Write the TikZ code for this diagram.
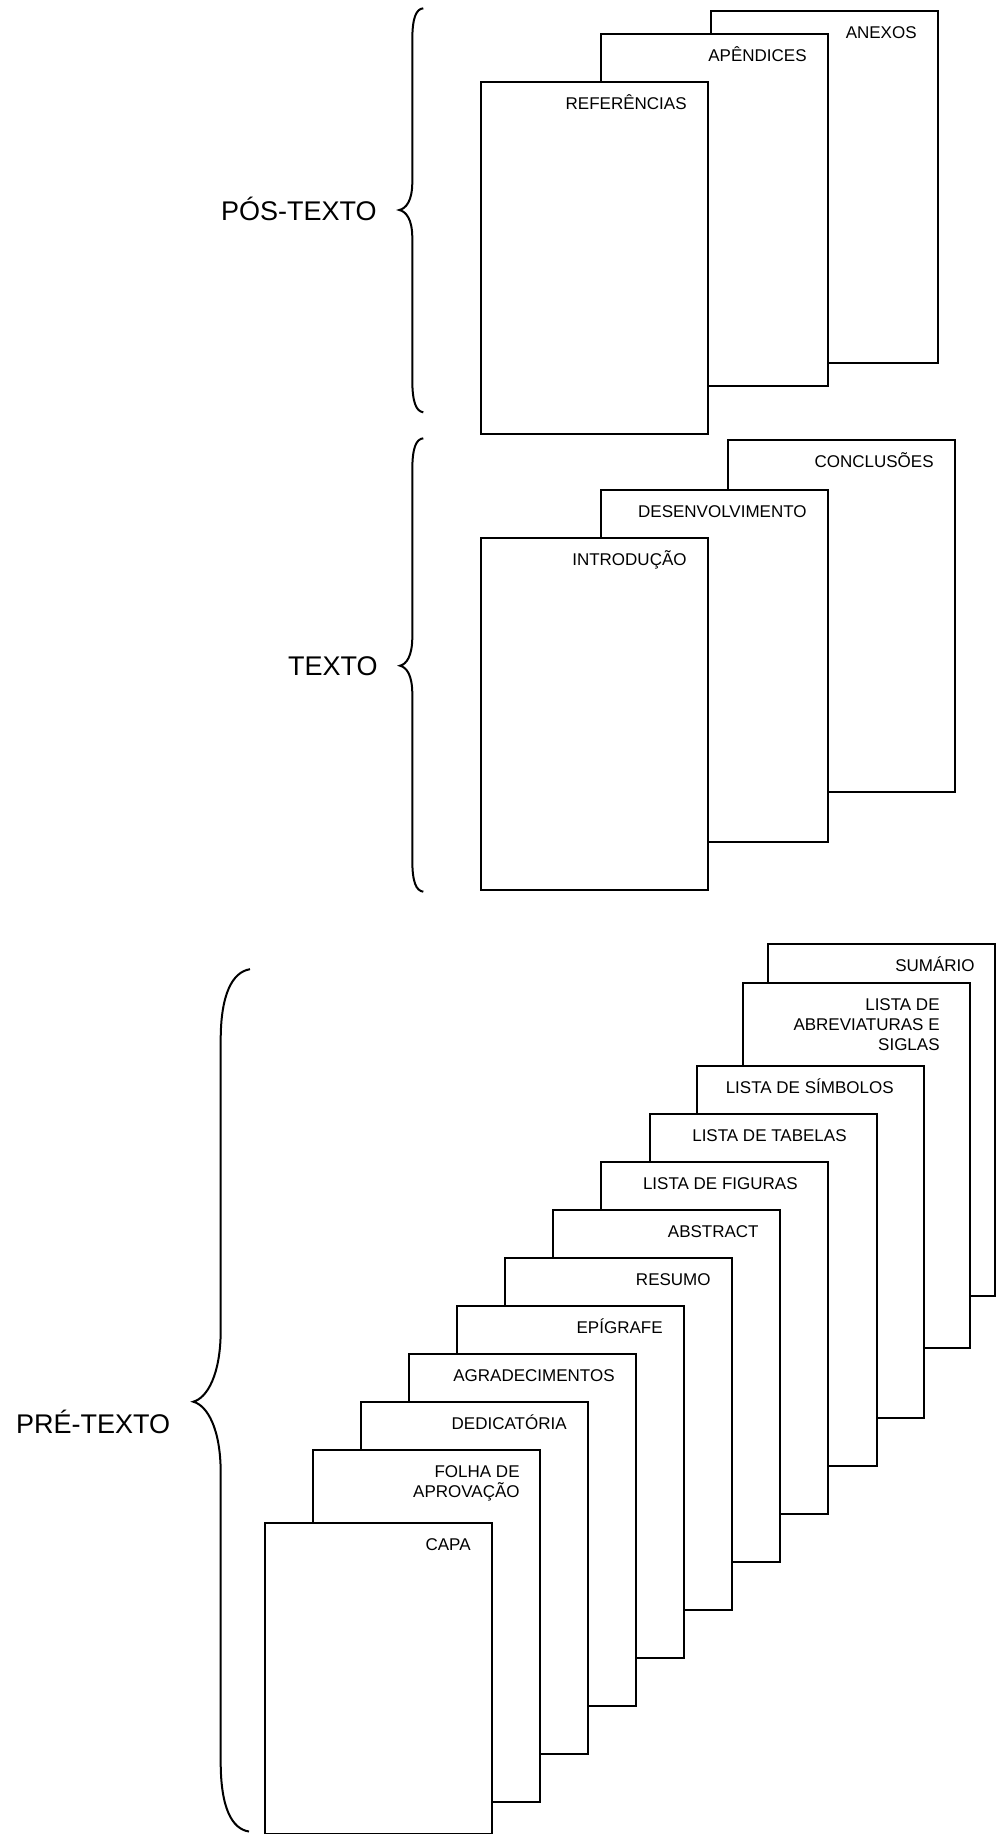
\documentclass[tikz,border=0pt]{standalone}
\usepackage{fontspec}
\setmainfont{Liberation Sans}
\usepackage{tikz}
\usetikzlibrary{calc,positioning}

\begin{document}
\begin{tikzpicture}[x=0.5pt,y=-0.5pt,
    page/.style={draw,fill=white,line width=1pt,anchor=north west,inner sep=0pt,
                 minimum width=113.5pt,minimum height=176pt},
    ptitle/.style={anchor=north east,inner sep=0pt,font=\fontsize{8.5}{10}\selectfont,
                   text height=6.1pt},
    ptitlem/.style={anchor=north east,inner sep=0pt,font=\fontsize{8.5}{10}\selectfont,
                    align=right},
    part/.style={anchor=east,inner sep=0pt,font=\fontsize{13.5}{16}\selectfont,
                 text height=9.7pt,text depth=0pt},
    curly/.style={line width=1pt}]
    \useasboundingbox (0,0) rectangle (996,1834);

    % pos-texto
    \node[page] (anexos) at (710,10) {};
    \node[ptitle] (anexos-t) at ($(anexos.north east)+(-22,16)$) {ANEXOS};
    \node[page] (apendices) at (600,33) {};
    \node[ptitle] (apendices-t) at ($(apendices.north east)+(-22,16)$) {APÊNDICES};
    \node[page] (referencias) at (480,81) {};
    \node[ptitle] (referencias-t) at ($(referencias.north east)+(-22,16)$) {REFERÊNCIAS};

    \draw[curly] (423.3,8.3) .. controls (416,9) and (412.3,18) .. (412.3,40)
        -- (412.3,182) .. controls (412.3,201) and (406,208.5) .. (399.3,210)
        .. controls (406,211.5) and (412.3,219) .. (412.3,238)
        -- (412.3,380) .. controls (412.3,402) and (416,411.3) .. (423.3,412.3);
    \node[part] (pos) at (377,211) {PÓS-TEXTO};

    % texto
    \node[page] (conclusoes) at (727,439) {};
    \node[ptitle] (conclusoes-t) at ($(conclusoes.north east)+(-22,16)$) {CONCLUSÕES};
    \node[page] (desenvolvimento) at (600,489) {};
    \node[ptitle] (desenvolvimento-t) at ($(desenvolvimento.north east)+(-22,16)$) {DESENVOLVIMENTO};
    \node[page] (introducao) at (480,537) {};
    \node[ptitle] (introducao-t) at ($(introducao.north east)+(-22,16)$) {INTRODUÇÃO};

    \draw[curly] (423.3,438.3) .. controls (416,439) and (412.3,448) .. (412.3,470)
        -- (412.3,637) .. controls (412.3,656) and (406.5,664.2) .. (400,665.7)
        .. controls (406.5,667.2) and (412.3,675) .. (412.3,694)
        -- (412.3,860) .. controls (412.3,882) and (416,890.7) .. (423.3,891.7);
    \node[part] (txt) at (378,666) {TEXTO};

    % pre-texto
    \node[page] (sumario) at (767,943) {};
    \node[ptitle] (sumario-t) at ($(sumario.north east)+(-21,16)$) {SUMÁRIO};
    \node[page,minimum height=182.5pt] (abreviaturas) at (742,982) {};
    \node[ptitlem] (abreviaturas-t) at ($(abreviaturas.north east)+(-31,16)$) {LISTA DE\\ABREVIATURAS E\\SIGLAS};
    \node[page] (simbolos) at (696,1065) {};
    \node[ptitle] (simbolos-t) at ($(simbolos.north east)+(-31,16)$) {LISTA DE SÍMBOLOS};
    \node[page] (tabelas) at (649,1113) {};
    \node[ptitle] (tabelas-t) at ($(tabelas.north east)+(-31,16)$) {LISTA DE TABELAS};
    \node[page] (figuras) at (600,1161) {};
    \node[ptitle] (figuras-t) at ($(figuras.north east)+(-31,16)$) {LISTA DE FIGURAS};
    \node[page] (abstract) at (552,1209) {};
    \node[ptitle] (abstract-t) at ($(abstract.north east)+(-22,16)$) {ABSTRACT};
    \node[page] (resumo) at (504,1257) {};
    \node[ptitle] (resumo-t) at ($(resumo.north east)+(-22,16)$) {RESUMO};
    \node[page] (epigrafe) at (456,1305) {};
    \node[ptitle] (epigrafe-t) at ($(epigrafe.north east)+(-22,16)$) {EPÍGRAFE};
    \node[page] (agradecimentos) at (408,1353) {};
    \node[ptitle] (agradecimentos-t) at ($(agradecimentos.north east)+(-22,16)$) {AGRADECIMENTOS};
    \node[page] (dedicatoria) at (360,1401) {};
    \node[ptitle] (dedicatoria-t) at ($(dedicatoria.north east)+(-22,16)$) {DEDICATÓRIA};
    \node[page] (folha) at (312,1449) {};
    \node[ptitlem] (folha-t) at ($(folha.north east)+(-21,16)$) {FOLHA DE\\APROVAÇÃO};
    \node[page,minimum height=155.5pt] (capa) at (264,1522) {};
    \node[ptitle] (capa-t) at ($(capa.north east)+(-22,16)$) {CAPA};

    \draw[curly] (250,969.2) .. controls (232,972) and (220.7,995) .. (220.7,1040)
        -- (220.7,1330) .. controls (220.7,1375) and (207,1398) .. (193.3,1401.7)
        .. controls (207,1405.4) and (220.7,1428) .. (220.7,1473)
        -- (220.7,1762) .. controls (220.7,1808) and (232,1829) .. (249,1831.5);
    \node[part] (pre) at (170.5,1424) {PRÉ-TEXTO};
\end{tikzpicture}
\end{document}
